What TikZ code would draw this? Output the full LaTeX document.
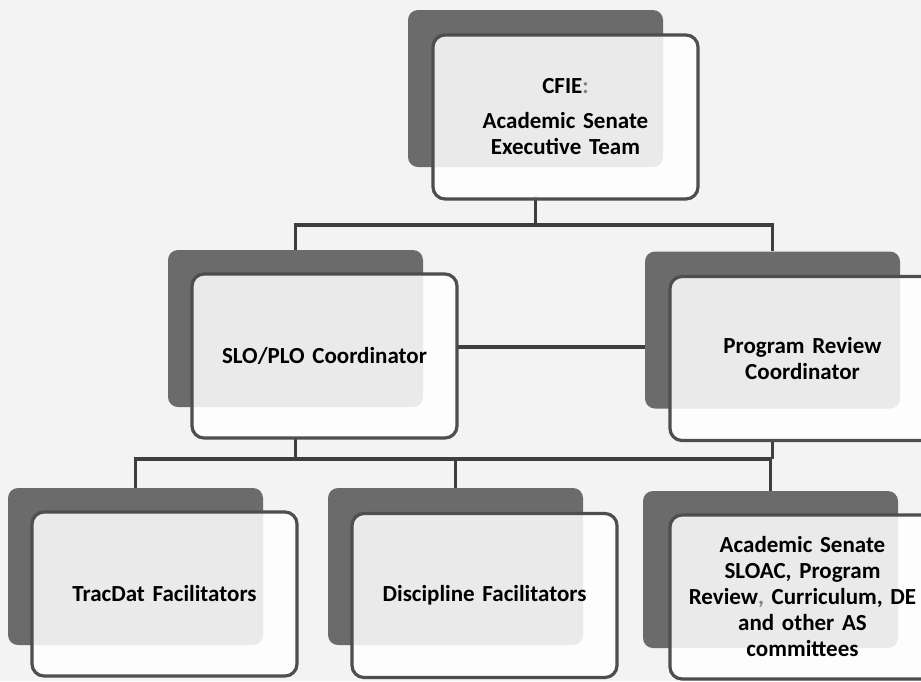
\documentclass[tikz,border=0pt]{standalone}
\usepackage{fontspec}
\setmainfont{Carlito}
\usetikzlibrary{positioning,calc}
\usepackage{xcolor}
\definecolor{shadowgray}{HTML}{6B6B6B}
\definecolor{edgegray}{HTML}{4E4E4E}
\definecolor{linegray}{HTML}{3E3E3E}
\definecolor{paper}{HTML}{F3F3F3}

\begin{document}
\begin{tikzpicture}[x=1pt, y=-1pt,
    backbox/.style={fill=shadowgray, draw=none, rounded corners=10pt, minimum width=255pt, minimum height=157pt, inner sep=0pt},
    frontbox/.style={fill=white, fill opacity=0.86, text opacity=1, draw=edgegray, line width=3.2pt, rounded corners=12pt, minimum width=265pt, minimum height=164pt, inner sep=0pt, text width=250pt, align=center, font=\fontsize{23}{26}\selectfont\bfseries},
    link/.style={draw=linegray, line width=3.6pt}]
            \useasboundingbox (0,0) rectangle (921,681);
            \fill[paper] (0,0) rectangle (921,681);
            \clip (0,0) rectangle (921,681);

            % Shadow boxes
            \node[backbox] (topbg) at (535.5,88.5) {};
            \node[backbox] (slobg) at (295.5,328.5) {};
            \node[backbox] (prbg) at (772.5,330) {};
            \node[backbox] (tdbg) at (135.5,566.5) {};
            \node[backbox] (dfbg) at (455.5,566.5) {};
            \node[backbox] (asbg) at (770.5,569.5) {};

            % Connectors
            \coordinate (j1) at (535.5,225);
            \coordinate (j2) at (295.5,459);
            \draw[link] (topbg.center |- 0,196) -- (j1);
            \draw[link] (slobg.north) |- (j1) -| (prbg.north);
            \draw[link] (457,347) -- (prbg.west |- 0,347);
            \draw[link] (slobg.center |- 0,437) -- (j2);
            \draw[link] (prbg.center |- 0,439) -- (prbg.center |- j2);
            \draw[link] (tdbg.north) |- (j2) -| (asbg.north);
            \draw[link] (dfbg.north) -- (dfbg.north |- j2);

            % Front boxes
            \node[frontbox] (top) at (565.5,117) {CFIE{\color{gray}:}\\[9pt]Academic Senate\\Executive Team};
            \node[frontbox] (slo) at (324.5,356) {SLO/PLO Coordinator};
            \node[frontbox] (pr) at (802.5,358.5) {Program Review\\Coordinator};
            \node[frontbox] (td) at (164.5,594) {TracDat Facilitators};
            \node[frontbox] (df) at (484.5,595.5) {Discipline Facilitators};
            \node[frontbox] (as) at (802.5,597) {Academic Senate\\SLOAC, Program\\Review{\color{gray},} Curriculum, DE\\and other AS\\committees};
        \end{tikzpicture}
\end{document}
